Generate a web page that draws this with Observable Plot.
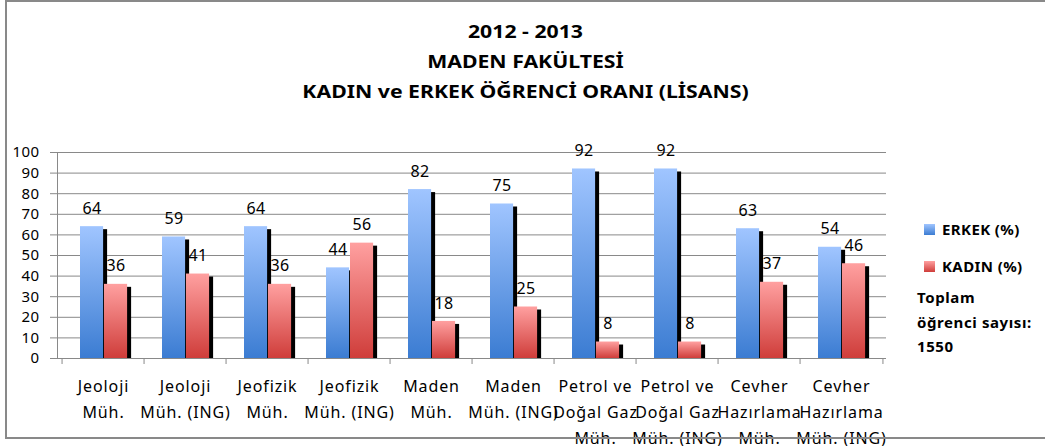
<!DOCTYPE html>
<html>
<head>
<meta charset="utf-8">
<script src="https://cdn.jsdelivr.net/npm/d3@7"></script>
<script src="https://cdn.jsdelivr.net/npm/@observablehq/plot@0.6"></script>
<style>
  html, body { margin: 0; padding: 0; background: #fff; overflow: hidden; }
  #wrap { position: relative; width: 1045px; height: 446px; overflow: hidden; font-family: "Noto Sans", sans-serif; }
  #chart { position: absolute; left: 0; top: 0; }
  #chart svg text { letter-spacing: 0.4px; }
  #chart svg g[aria-label="x-axis tick label"] text { letter-spacing: 0.9px; }
  #border { position: absolute; left: 5px; top: 0px; width: 1060px; height: 435px; border: 2px solid #898989; pointer-events: none; }
  #title { position: absolute; left: 3px; top: 16px; width: 1045px; text-align: center; font-weight: bold; font-size: 18px; line-height: 30px; color: #000; }
  #title div { transform: scaleX(1.18); transform-origin: center; }
  .leg { position: absolute; font-weight: bold; font-size: 15px; line-height: 20px; color: #000; letter-spacing: 0.4px; white-space: nowrap; }
  .sw { position: absolute; width: 11px; height: 11px; }
  #total { position: absolute; left: 917px; top: 285px; font-weight: bold; font-size: 15px; line-height: 24.5px; letter-spacing: 0.6px; white-space: nowrap; }
</style>
</head>
<body>
<div id="wrap">
  <div id="chart"></div>
  <div id="title"></div>
  <div id="legend"></div>
  <div id="total"></div>
  <div id="border"></div>
</div>
<script>
// ---- data ----
const titleLines = ["2012 - 2013", "MADEN FAKÜLTESİ", "KADIN ve ERKEK ÖĞRENCİ ORANI (LİSANS)"];
const categories = [
  "Jeoloji\nMüh.",
  "Jeoloji\nMüh. (ING)",
  "Jeofizik\nMüh.",
  "Jeofizik\nMüh. (ING)",
  "Maden\nMüh.",
  "Maden\nMüh. (ING)",
  "Petrol ve\nDoğal Gaz\nMüh.",
  "Petrol ve\nDoğal Gaz\nMüh. (ING)",
  "Cevher\nHazırlama\nMüh.",
  "Cevher\nHazırlama\nMüh. (ING)"
];
const erkek = [64, 59, 64, 44, 82, 75, 92, 92, 63, 54];
const kadin = [36, 41, 36, 56, 18, 25, 8, 8, 37, 46];
const seriesNames = ["ERKEK (%)", "KADIN (%)"];
const yTicks = [0, 10, 20, 30, 40, 50, 60, 70, 80, 90, 100];
const totalNote = ["Toplam", "öğrenci sayısı:", "1550"];

// ---- colours ----
const blueTop = "#a0c5ff", blueBottom = "#3b7cd2";
const redTop = "#ffa0a0", redBottom = "#cf3d3a";
const gridColor = "#898989";

// ---- table ----
const rows = categories.map((c, i) => ({category: c, erkek: erkek[i], kadin: kadin[i]}));

// ---- layout ----
const W = 1045, H = 446;
const mL = 57, mR = 159, mT = 152, mB = 88;
const step = (W - mL - mR) / categories.length;
const barW = 24;
const lead = 18; // gap before first bar inside band
const blueInset = {insetLeft: lead, insetRight: step - lead - barW};
const redInset = {insetLeft: lead + barW, insetRight: step - lead - 2 * barW};

function defs() {
  const ns = "http://www.w3.org/2000/svg";
  const d = document.createElementNS(ns, "defs");
  d.innerHTML =
    `<linearGradient id="gB" x1="0" y1="0" x2="0" y2="1"><stop offset="0" stop-color="${blueTop}"/><stop offset="1" stop-color="${blueBottom}"/></linearGradient>` +
    `<linearGradient id="gR" x1="0" y1="0" x2="0" y2="1"><stop offset="0" stop-color="${redTop}"/><stop offset="1" stop-color="${redBottom}"/></linearGradient>`;
  return d;
}

const chart = Plot.plot({
  width: W,
  height: H,
  marginLeft: mL,
  marginRight: mR,
  marginTop: mT,
  marginBottom: mB,
  style: {background: "transparent", fontFamily: "'Noto Sans', sans-serif", color: "#000"},
  x: {domain: categories, padding: 0},
  y: {domain: [0, 100]},
  marks: [
    defs,
    Plot.gridY(yTicks, {stroke: gridColor, strokeOpacity: 1, strokeWidth: 1}),
    Plot.axisY(yTicks, {tickSize: 7, tickPadding: 11, stroke: gridColor, fill: "#000", fontSize: 15, label: null, tickFormat: d => String(d)}),
    Plot.frame({anchor: "left", stroke: gridColor}),
    Plot.ruleX(categories, {x: d => d, dx: -step / 2, y1: 0, y2: 0, insetBottom: -6, stroke: gridColor}),
    Plot.ruleX(categories.slice(-1), {x: d => d, dx: step / 2, y1: 0, y2: 0, insetBottom: -6, stroke: gridColor}),
    Plot.axisX({tickSize: 0, tickPadding: 15, fontSize: 16, lineHeight: 1.62, label: null, fill: "#000"}),
    Plot.text(rows, {x: "category", y: "erkek", text: d => String(d.erkek), dx: lead + barW / 2 - step / 2, dy: -18, fontSize: 16, fill: "#000"}),
    Plot.text(rows, {x: "category", y: "kadin", text: d => String(d.kadin), dx: lead + 1.5 * barW - step / 2, dy: -18, fontSize: 16, fill: "#000"}),
    Plot.barY(rows, {x: "category", y: "erkek", fill: "#000", ...blueInset, insetTop: 3, dx: 4}),
    Plot.barY(rows, {x: "category", y: "erkek", fill: "url(#gB)", ...blueInset}),
    Plot.barY(rows, {x: "category", y: "kadin", fill: "#000", ...redInset, insetTop: 3, dx: 4}),
    Plot.barY(rows, {x: "category", y: "kadin", fill: "url(#gR)", ...redInset})
  ]
});
document.getElementById("chart").appendChild(chart);

// title
const t = document.getElementById("title");
for (const line of titleLines) {
  const d = document.createElement("div");
  d.textContent = line;
  t.appendChild(d);
}

// legend
const lg = document.getElementById("legend");
const legItems = [
  {name: seriesNames[0], top: 224, grad: `linear-gradient(${blueTop}, ${blueBottom})`},
  {name: seriesNames[1], top: 261, grad: `linear-gradient(${redTop}, ${redBottom})`}
];
for (const it of legItems) {
  const sw = document.createElement("div");
  sw.className = "sw";
  sw.style.left = "924px";
  sw.style.top = it.top + "px";
  sw.style.background = it.grad;
  lg.appendChild(sw);
  const tx = document.createElement("div");
  tx.className = "leg";
  tx.style.left = "942px";
  tx.style.top = (it.top - 5.5) + "px";
  tx.textContent = it.name;
  lg.appendChild(tx);
}
const tot = document.getElementById("total");
tot.innerHTML = totalNote.map(s => `<div>${s}</div>`).join("");
</script>
</body>
</html>
